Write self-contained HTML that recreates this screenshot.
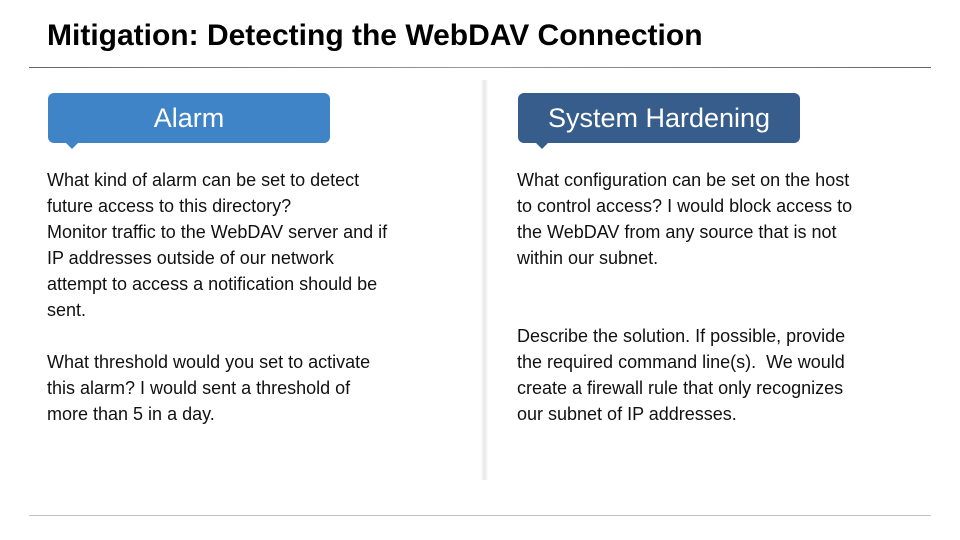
<!DOCTYPE html>
<html><head><meta charset="utf-8"><style>
body{margin:0;width:960px;height:540px;background:#fff;position:relative;overflow:hidden;font-family:"Liberation Sans",sans-serif;}
.t{position:absolute;left:47px;top:19px;font-size:30px;font-weight:bold;color:#000;letter-spacing:0px}
.hl{position:absolute;left:29px;top:67px;width:902px;height:1px;background:linear-gradient(90deg,#666,#999 50%,#666)}
.bl{position:absolute;left:29px;top:515px;width:902px;height:1px;background:#b8c4d0}
.div{position:absolute;left:481px;top:80px;width:7px;height:400px;background:linear-gradient(90deg,rgba(0,0,0,0.02),rgba(0,0,0,0.09),rgba(0,0,0,0.01));}
.box{position:absolute;top:93px;width:282px;height:50px;border-radius:6px;color:#fff;font-size:27px;text-align:center;line-height:50px}
.box:after{content:"";position:absolute;left:18px;bottom:-6px;border-left:6px solid transparent;border-right:6px solid transparent;border-top:6px solid var(--c)}
.p{position:absolute;font-size:18px;line-height:26px;color:#111;width:420px;white-space:nowrap}
</style></head><body>
<div class="t">Mitigation: Detecting the WebDAV Connection</div>
<div class="hl"></div>
<div class="div"></div>
<div class="box" style="left:48px;background:#3f84c6;--c:#3f84c6">Alarm</div>
<div class="box" style="left:518px;background:#365d8b;--c:#365d8b">System Hardening</div>
<div class="p" style="left:47px;top:167px">What kind of alarm can be set to detect<br>future access to this directory?<br>Monitor traffic to the WebDAV server and if<br>IP addresses outside of our network<br>attempt to access a notification should be<br>sent.<br><br>What threshold would you set to activate<br>this alarm? I would sent a threshold of<br>more than 5 in a day.</div>
<div class="p" style="left:517px;top:167px">What configuration can be set on the host<br>to control access? I would block access to<br>the WebDAV from any source that is not<br>within our subnet.<br><br><br>Describe the solution. If possible, provide<br>the required command line(s).&nbsp; We would<br>create a firewall rule that only recognizes<br>our subnet of IP addresses.</div>
<div class="bl"></div>
</body></html>
